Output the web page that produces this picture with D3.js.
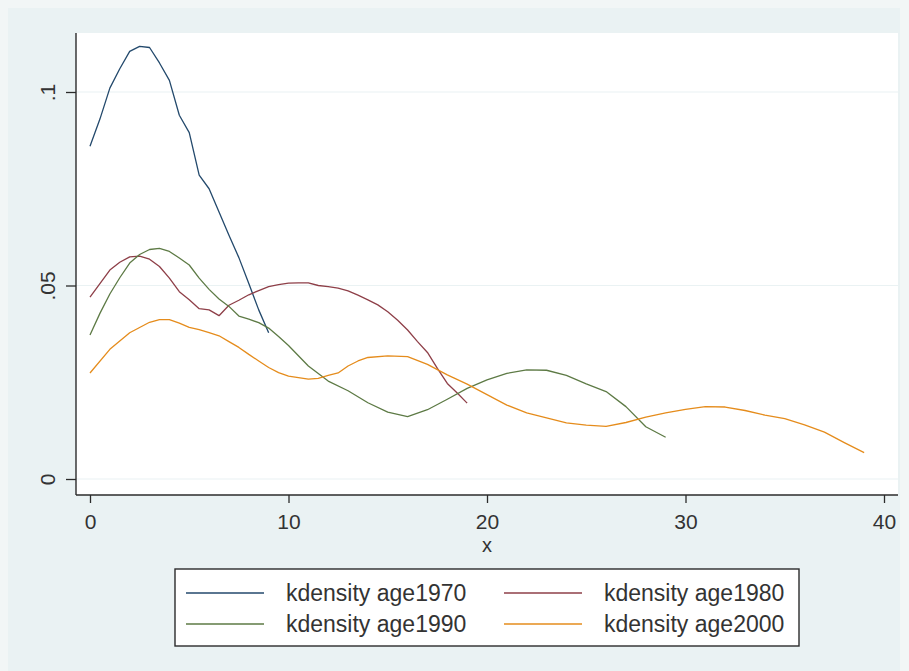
<!DOCTYPE html>
<html>
<head>
<meta charset="utf-8">
<script src="https://cdn.jsdelivr.net/npm/d3@7"></script>
<style>
  html, body { margin: 0; padding: 0; background: #f2f6f6; }
  svg { display: block; }
</style>
</head>
<body>
<div id="chart"></div>
<script>
// kernel density estimates
const x1970 = [0, 0.5, 1, 1.5, 2, 2.5, 3, 3.5, 4, 4.5, 5, 5.5, 6, 6.5, 7, 7.5, 8, 8.5, 9];
const y1970 = [.086, .093, .101, .106, .1105, .1118, .1115, .1075, .1030, .0940, .0895, .0785, .0750, .0690, .0630, .0572, .0505, .0437, .0378];

const x1980 = [0, 0.5, 1, 1.5, 2, 2.5, 3, 3.5, 4, 4.5, 5, 5.5, 6, 6.5, 7, 7.5, 8, 8.5, 9, 9.5,
  10, 10.5, 11, 11.5, 12, 12.5, 13, 13.5, 14, 14.5, 15, 15.5, 16, 16.5, 17, 17.5, 18, 18.5, 19];
const y1980 = [.0470, .0505, .0540, .0560, .0574, .0576, .0568, .0549, .0519, .0484, .0463, .0440, .0437, .0422, .0449, .0462, .0476, .0487, .0497, .0502,
  .0506, .0507, .0507, .0500, .0497, .0493, .0486, .0475, .0463, .0450, .0432, .0410, .0385, .0355, .0327, .0286, .0247, .0222, .0196];

const x1990 = [0, 0.5, 1, 1.5, 2, 2.5, 3, 3.5, 4, 4.5, 5, 5.5, 6, 6.5, 7, 7.5, 8, 8.5, 9, 9.5, 10,
  11, 12, 13, 14, 15, 16, 17, 18, 19, 20, 21, 22, 23, 24, 25, 26, 27, 28, 29];
const y1990 = [.0372, .0428, .0478, .0520, .0558, .0580, .0593, .0596, .0588, .0571, .0553, .0519, .0490, .0465, .0446, .0421, .0413, .0404, .0390, .0368, .0345,
  .0292, .0253, .0228, .0197, .0173, .0161, .0179, .0206, .0234, .0256, .0273, .0282, .0281, .0268, .0246, .0226, .0187, .0135, .0108];

const x2000 = [0, 1, 2, 3, 3.5, 4, 4.5, 5, 5.5, 6, 6.5, 7, 7.5, 8, 8.5, 9, 9.5, 10, 11, 11.5, 12, 12.5, 13, 13.5, 14,
  15, 16, 17, 18, 19, 20, 21, 22, 23, 24, 25, 26, 27, 28, 29, 30, 31, 32, 33, 34, 35, 36, 37, 38, 39];
const y2000 = [.0274, .0335, .0378, .0405, .0412, .0412, .0403, .0392, .0386, .0378, .0370, .0355, .0340, .0322, .0305, .0288, .0275, .0266, .0258, .0260, .0268, .0274, .0292, .0305, .0314,
  .0318, .0316, .0296, .0269, .0245, .0218, .0191, .0171, .0158, .0145, .0139, .0136, .0146, .0160, .0171, .0180, .0187, .0186, .0177, .0165, .0156, .0140, .0121, .0094, .0068];

const seriesNames = ["kdensity age1970", "kdensity age1980", "kdensity age1990", "kdensity age2000"];
const seriesColors = ["#23496c", "#8e3f48", "#5d7a45", "#e58c1c"];
const xTicks = [0, 10, 20, 30, 40];
const yTicks = [0, 0.05, 0.1];
const yTickLabels = ["0", ".05", ".1"];

const width = 909;
const height = 671;
const font = "'Liberation Sans', Arial, sans-serif";

const svg = d3.select("#chart")
  .append("svg")
  .attr("width", width)
  .attr("height", height);

// graph region background
svg.append("rect")
  .attr("x", 8).attr("y", 8)
  .attr("width", 892).attr("height", height - 8)
  .attr("fill", "#eaf2f3");

// plot region
svg.append("rect")
  .attr("x", 76).attr("y", 33)
  .attr("width", 822).attr("height", 462)
  .attr("fill", "white");

const x = d3.scaleLinear().domain([0, 40]).range([90, 884]);
const y = d3.scaleLinear().domain([0, 0.1]).range([479, 92]);

// gridlines
svg.append("g")
  .selectAll("line")
  .data(yTicks)
  .enter().append("line")
  .attr("x1", 76).attr("x2", 898)
  .attr("y1", d => y(d)).attr("y2", d => y(d))
  .attr("stroke", "#eaf2f3")
  .attr("stroke-width", 1.2);

// curves
const series = [
  { xs: x1970, ys: y1970 },
  { xs: x1980, ys: y1980 },
  { xs: x1990, ys: y1990 },
  { xs: x2000, ys: y2000 }
];
const line = d3.line().x(d => x(d[0])).y(d => y(d[1]));

svg.append("g")
  .selectAll("path")
  .data(series)
  .enter().append("path")
  .attr("d", s => line(s.xs.map((v, i) => [v, s.ys[i]])))
  .attr("fill", "none")
  .attr("stroke", (s, i) => seriesColors[i])
  .attr("stroke-width", 1.3)
  .attr("stroke-linejoin", "round");

// x axis
const xAxis = svg.append("g")
  .attr("transform", "translate(0,495)")
  .call(d3.axisBottom(x).tickValues(xTicks).tickSize(8).tickPadding(11).tickFormat(d3.format("d")));
xAxis.select(".domain").attr("d", "M76,0H898");

// y axis
const yAxis = svg.append("g")
  .attr("transform", "translate(76,0)")
  .call(d3.axisLeft(y).tickValues(yTicks).tickSize(10).tickFormat((d, i) => yTickLabels[i]));
yAxis.select(".domain").attr("d", "M0,33V495");

svg.selectAll(".domain").attr("stroke", "#2b2b2b").attr("stroke-width", 1.4);
svg.selectAll(".tick line").attr("stroke", "#2b2b2b").attr("stroke-width", 1.3);
svg.selectAll(".tick text")
  .style("font-family", font)
  .style("font-size", "21px")
  .attr("fill", "#333");

// rotate y tick labels like Stata
yAxis.selectAll(".tick text")
  .attr("x", null).attr("dy", null)
  .attr("text-anchor", "middle")
  .attr("transform", "translate(-21,0) rotate(-90)");

// x title
svg.append("text")
  .attr("x", x(20))
  .attr("y", 552)
  .attr("text-anchor", "middle")
  .style("font-family", font)
  .style("font-size", "20px")
  .attr("fill", "#333")
  .text("x");

// legend
const legend = svg.append("g");
legend.append("rect")
  .attr("x", 175).attr("y", 569)
  .attr("width", 624).attr("height", 77)
  .attr("fill", "white")
  .attr("stroke", "#2b2b2b")
  .attr("stroke-width", 1.4);

const colX = [186, 504];
const rowY = [593, 624];
seriesNames.forEach((name, i) => {
  const cx = colX[i % 2];
  const cy = rowY[Math.floor(i / 2)];
  legend.append("line")
    .attr("x1", cx).attr("x2", cx + 78)
    .attr("y1", cy).attr("y2", cy)
    .attr("stroke", seriesColors[i])
    .attr("stroke-width", 1.3);
  legend.append("text")
    .attr("x", cx + 100)
    .attr("y", cy + 8)
    .style("font-family", font)
    .style("font-size", "23px")
    .attr("fill", "#333")
    .text(name);
});
</script>
</body>
</html>
